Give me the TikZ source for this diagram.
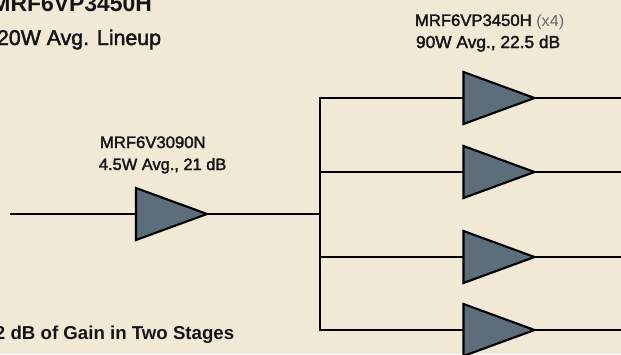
\documentclass[tikz,border=0pt]{standalone}
\usepackage{fontspec}
\setmainfont{Liberation Sans}
\newfontfamily\medfont[FakeBold=2]{Liberation Sans}
\usetikzlibrary{shapes.geometric}
\definecolor{bgc}{HTML}{F1E9D6}
\definecolor{ampc}{HTML}{5C6E7B}
\definecolor{txt}{HTML}{141414}
\tikzset{
  amp/.style={isosceles triangle, isosceles triangle stretches, draw=black, fill=ampc,
    line width=1.6pt, minimum width=52*0.75pt, minimum height=71*0.75pt, inner sep=0pt, outer sep=0pt, line join=miter, anchor=lower side},
  wire/.style={draw=black, line width=1.6pt},
  lbl/.style={text=txt, inner sep=0pt, outer sep=0pt, anchor=base west},
  small/.style={lbl, font=\fontsize{12.5}{14}\medfont}
}
\begin{document}
\begin{tikzpicture}[x=0.75pt,y=-0.75pt]
\useasboundingbox (0,0) rectangle (621,354);
\clip (0,0) rectangle (621,354);
\fill[bgc] (0,0) rectangle (621,354);
\node[lbl, anchor=base east, font=\fontsize{17.2}{20}\selectfont\bfseries] (title) at (152,11) {MRF6VP3450H};
\node[lbl, font=\fontsize{16}{18}\medfont] (sub) at (-3,45) {20W Avg. Lineup};
\node[small] (l1a) at (100,148) {MRF6V3090N};
\node[lbl, font=\fontsize{12.3}{14}\medfont] (l1b) at (99,170) {4.5W Avg., 21 dB};
\node[small] (l2a) at (415,26) {MRF6VP3450H {\fontsize{12.1}{14}\selectfont\normalfont\color{black!60}(x4)}};
\node[lbl, font=\fontsize{13}{14}\medfont] (l2b) at (416,48) {90W Avg., 22.5 dB};
\node[lbl, font=\fontsize{14}{16}\selectfont\bfseries] (foot) at (-5,339) {2 dB of Gain in Two Stages};

\coordinate (in) at (10,214);
\coordinate (bus) at (320,214);
\coordinate (bt) at (320,98);
\coordinate (bb) at (320,330);
\coordinate (o1) at (621,98);
\coordinate (o2) at (621,172);
\coordinate (o3) at (621,257);
\coordinate (o4) at (621,330);
\coordinate (b2) at (320,172);
\coordinate (b3) at (320,257);

\node[amp] (a0) at (136,214) {};
\node[amp] (a1) at (463.5,98) {};
\node[amp] (a2) at (463.5,172) {};
\node[amp] (a3) at (463.5,257) {};
\node[amp] (a4) at (463.5,330) {};

\draw[wire] (in) -- (a0.lower side);
\draw[wire] (a0.apex) -- (bus);
\draw[wire, line join=miter] (a1.lower side) -- (bt) -- (bb) -- (a4.lower side);
\draw[wire] (b2) -- (a2.lower side);
\draw[wire] (b3) -- (a3.lower side);
\draw[wire] (a1.apex) -- (o1);
\draw[wire] (a2.apex) -- (o2);
\draw[wire] (a3.apex) -- (o3);
\draw[wire] (a4.apex) -- (o4);
\end{tikzpicture}
\end{document}
